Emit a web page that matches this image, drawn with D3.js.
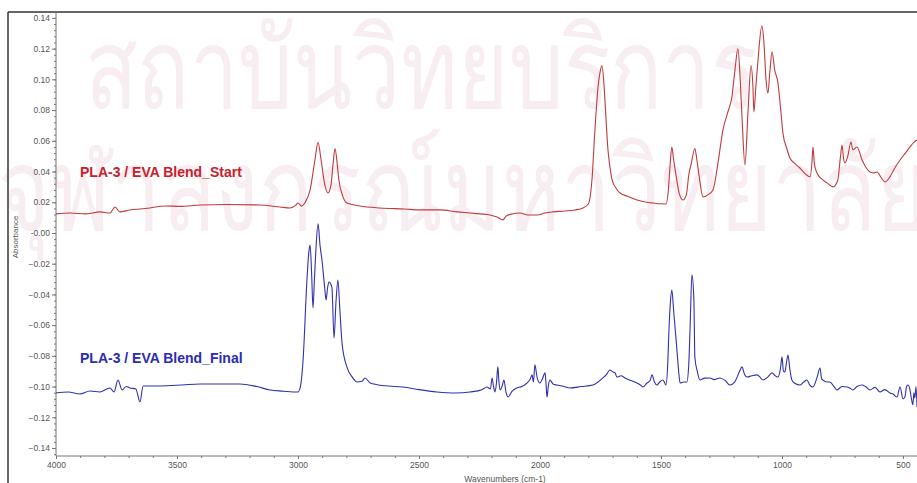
<!DOCTYPE html>
<html>
<head>
<meta charset="utf-8">
<script src="https://cdn.jsdelivr.net/npm/d3@7/dist/d3.min.js"></script>
<style>
  html, body { margin: 0; padding: 0; background: #fff; }
  svg { display: block; }
</style>
</head>
<body>
<svg id="chart" width="917" height="483"></svg>
<script>
// FTIR spectra of the PLA-3 / EVA blend, start vs. final
const seriesNames = ["PLA-3 / EVA Blend_Start", "PLA-3 / EVA Blend_Final"];

// start spectrum: wavenumber (cm-1) and absorbance
const startWavenumbers = [4000,3942,3880,3818,3777,3756,3736,3694,3653,3612,3550,3488,3405,3300,3157,3074,3033,3010,3000,2985,2970,2950,2930,2917,2905,2890,2876,2864,2855,2847,2838,2831,2815,2798,2744,2661,2560,2496,2413,2343,2289,2248,2207,2178,2153,2140,2116,2083,2050,2012,1979,1946,1897,1855,1822,1800,1785,1773,1760,1750,1744,1737,1731,1719,1710,1702,1685,1669,1640,1599,1560,1533,1500,1479,1470,1462,1455,1448,1438,1425,1409,1395,1385,1375,1360,1352,1343,1326,1305,1285,1265,1244,1225,1207,1195,1182,1172,1165,1153,1140,1128,1120,1116,1108,1099,1083,1075,1066,1058,1050,1041,1030,1017,1005,996,980,967,945,926,900,884,876,872,866,855,835,814,789,770,758,752,745,740,728,715,707,690,669,650,636,620,607,590,574,554,535,512,490,471,455,442];
const startAbsorbance = [0.0124,0.0130,0.0124,0.0137,0.0130,0.0169,0.0137,0.0150,0.0156,0.0163,0.0176,0.0173,0.0182,0.0185,0.0182,0.0169,0.0163,0.0180,0.0195,0.0175,0.0200,0.0280,0.0475,0.0590,0.0480,0.0320,0.0260,0.0310,0.0450,0.0550,0.0450,0.0345,0.0240,0.0195,0.0176,0.0163,0.0156,0.0150,0.0150,0.0137,0.0130,0.0124,0.0117,0.0104,0.0085,0.0110,0.0124,0.0130,0.0117,0.0117,0.0130,0.0137,0.0143,0.0150,0.0163,0.0190,0.0350,0.0670,0.0950,0.1060,0.1090,0.1000,0.0850,0.0540,0.0420,0.0345,0.0290,0.0260,0.0240,0.0215,0.0200,0.0195,0.0190,0.0189,0.0270,0.0450,0.0560,0.0480,0.0378,0.0260,0.0215,0.0250,0.0380,0.0450,0.0550,0.0480,0.0378,0.0234,0.0250,0.0280,0.0450,0.0670,0.0780,0.0885,0.1050,0.1200,0.0980,0.0750,0.0443,0.0800,0.1090,0.0950,0.0788,0.0950,0.1126,0.1348,0.1250,0.1000,0.0910,0.1050,0.1180,0.1060,0.0980,0.0800,0.0650,0.0550,0.0488,0.0450,0.0423,0.0380,0.0365,0.0460,0.0560,0.0450,0.0390,0.0350,0.0326,0.0300,0.0340,0.0500,0.0573,0.0480,0.0456,0.0500,0.0592,0.0540,0.0560,0.0475,0.0420,0.0397,0.0390,0.0397,0.0360,0.0332,0.0365,0.0420,0.0475,0.0520,0.0560,0.0590,0.0605];

// final spectrum: wavenumber (cm-1) and absorbance
const finalWavenumbers = [4000,3950,3901,3860,3818,3790,3777,3760,3744,3727,3710,3694,3670,3653,3640,3610,3570,3480,3405,3320,3240,3170,3116,3060,3021,3000,2990,2979,2963,2955,2950,2944,2938,2932,2926,2917,2909,2901,2890,2884,2878,2872,2860,2851,2843,2835,2827,2818,2798,2775,2756,2735,2723,2702,2640,2566,2500,2426,2350,2289,2240,2219,2205,2198,2192,2186,2180,2174,2170,2165,2157,2149,2140,2132,2115,2095,2075,2054,2040,2033,2027,2021,2012,2000,1990,1979,1975,1971,1965,1959,1945,1930,1900,1876,1830,1781,1760,1740,1725,1711,1698,1690,1682,1665,1649,1625,1599,1585,1574,1560,1545,1537,1527,1517,1505,1492,1479,1472,1467,1461,1455,1448,1440,1434,1427,1421,1405,1393,1385,1380,1372,1364,1360,1350,1339,1320,1298,1280,1256,1235,1215,1195,1175,1165,1155,1145,1125,1103,1090,1079,1060,1041,1028,1017,1006,1000,994,988,982,975,968,959,945,926,910,897,885,872,855,843,836,831,815,802,785,773,752,731,720,707,690,669,655,636,615,595,575,554,540,525,512,500,492,485,479,471,465,459,455,451,446,442];
const finalAbsorbance = [-0.1042,-0.1035,-0.1048,-0.1029,-0.1035,-0.1016,-0.1009,-0.1035,-0.0957,-0.1022,-0.1000,-0.1009,-0.1016,-0.1100,-0.0996,-0.0996,-0.0996,-0.0990,-0.0983,-0.0983,-0.0983,-0.1000,-0.1022,-0.1030,-0.1035,-0.1035,-0.1000,-0.0827,-0.0306,-0.0120,-0.0078,-0.0250,-0.0488,-0.0300,-0.0110,0.0059,-0.0080,-0.0176,-0.0350,-0.0436,-0.0360,-0.0319,-0.0352,-0.0684,-0.0450,-0.0306,-0.0500,-0.0716,-0.0872,-0.0940,-0.0970,-0.0965,-0.0944,-0.0977,-0.0995,-0.1003,-0.1020,-0.1035,-0.1042,-0.1035,-0.1020,-0.1003,-0.1016,-0.0944,-0.1000,-0.1035,-0.0980,-0.0872,-0.0960,-0.1022,-0.1000,-0.0957,-0.1040,-0.1068,-0.1030,-0.1009,-0.1000,-0.0977,-0.0950,-0.0924,-0.0970,-0.0859,-0.0940,-0.0977,-0.0950,-0.0911,-0.0980,-0.1068,-0.0990,-0.0957,-0.0985,-0.0990,-0.1000,-0.1009,-0.1000,-0.0990,-0.0970,-0.0944,-0.0920,-0.0892,-0.0905,-0.0910,-0.0938,-0.0930,-0.0944,-0.0960,-0.0977,-0.0990,-0.1003,-0.0980,-0.0960,-0.0924,-0.0970,-0.0990,-0.0970,-0.0957,-0.0990,-0.0850,-0.0632,-0.0450,-0.0371,-0.0500,-0.0650,-0.0762,-0.0900,-0.0977,-0.0970,-0.0970,-0.0850,-0.0632,-0.0273,-0.0436,-0.0807,-0.0900,-0.0957,-0.0945,-0.0944,-0.0955,-0.0944,-0.0960,-0.0990,-0.0970,-0.0900,-0.0872,-0.0920,-0.0938,-0.0930,-0.0924,-0.0940,-0.0957,-0.0940,-0.0911,-0.0930,-0.0938,-0.0880,-0.0807,-0.0900,-0.0905,-0.0850,-0.0794,-0.0880,-0.0957,-0.0980,-0.0990,-0.0970,-0.0957,-0.0990,-0.1003,-0.0940,-0.0879,-0.0950,-0.0957,-0.0970,-0.0970,-0.1000,-0.1022,-0.1000,-0.1003,-0.1010,-0.1022,-0.1000,-0.0990,-0.1000,-0.1022,-0.1005,-0.1035,-0.1020,-0.1042,-0.1050,-0.1068,-0.1003,-0.1080,-0.1068,-0.1000,-0.0990,-0.1022,-0.1080,-0.1119,-0.1040,-0.1074,-0.1000,-0.1133];

const xTickValues = [4000,3500,3000,2500,2000,1500,1000,500];
const yTickValues = [0.14,0.12,0.10,0.08,0.06,0.04,0.02,0.00,-0.02,-0.04,-0.06,-0.08,-0.10,-0.12,-0.14];
const watermarkLines = ["สถาบันวิทยบริการ", "จุฬาลงกรณ์มหาวิทยาลัย"];

const svg = d3.select("#chart");
const W = 917, H = 483;

const x = d3.scaleLinear().domain([4000, 442]).range([56, 917]);
const y = d3.scaleLinear().domain([-0.1452, 0.1432]).range([456, 13]);

// faint watermark behind everything
const wm = svg.append("g").attr("fill", "#f8edf1")
  .style("font-family", "'Noto Sans', 'DejaVu Sans', sans-serif");
wm.append("text").attr("x", 85).attr("y", 108).attr("font-size", 112)
  .attr("textLength", 672).attr("lengthAdjust", "spacingAndGlyphs").text(watermarkLines[0]);
wm.append("text").attr("x", -2).attr("y", 230).attr("font-size", 115)
  .attr("textLength", 930).attr("lengthAdjust", "spacingAndGlyphs").text(watermarkLines[1]);

// outer frame
svg.append("line").attr("x1", 8).attr("x2", 8).attr("y1", 12).attr("y2", H)
  .attr("stroke", "#333").attr("stroke-width", 1.5);
svg.append("line").attr("x1", 8).attr("x2", W).attr("y1", 12).attr("y2", 12)
  .attr("stroke", "#333").attr("stroke-width", 1.5);

const axisColor = "#777";
const labelFont = "'Liberation Sans', Arial, sans-serif";

// y axis: minor ticks then major ticks with labels
const yMinor = d3.range(-0.144, 0.1421, 0.004);
const gyMinor = svg.append("g").attr("transform", "translate(56,0)")
  .call(d3.axisLeft(y).tickValues(yMinor).tickSize(2).tickFormat(""));
const gy = svg.append("g").attr("transform", "translate(56,0)")
  .call(d3.axisLeft(y).tickValues(yTickValues).tickSize(4).tickPadding(2)
    .tickFormat(v => Math.abs(v) < 1e-9 ? "-0.00" : d3.format(".2f")(v)));

// x axis
const xMinor = d3.range(4000, 441, -100);
const gxMinor = svg.append("g").attr("transform", "translate(0,456)")
  .call(d3.axisBottom(x).tickValues(xMinor).tickSize(2).tickFormat(""));
const gx = svg.append("g").attr("transform", "translate(0,456)")
  .call(d3.axisBottom(x).tickValues(xTickValues).tickSize(3).tickPadding(3)
    .tickFormat(d3.format("d")));

[gyMinor, gy, gxMinor, gx].forEach(g => {
  g.selectAll("path").attr("stroke", axisColor);
  g.selectAll("line").attr("stroke", axisColor);
  g.selectAll("text").attr("fill", "#555").style("font-family", labelFont).style("font-size", "8.5px");
});
gyMinor.select(".domain").remove();
gxMinor.select(".domain").remove();
gy.select(".domain").attr("d", `M0,${y.range()[1]}V${y.range()[0]}`);
gx.select(".domain").attr("d", `M56,0H${W}`);

// axis titles
svg.append("text").attr("transform", "translate(18,237) rotate(-90)")
  .attr("text-anchor", "middle").attr("fill", "#555")
  .style("font-family", labelFont).style("font-size", "8px").text("Absorbance");
svg.append("text").attr("x", 505).attr("y", 482)
  .attr("text-anchor", "middle").attr("fill", "#555")
  .style("font-family", labelFont).style("font-size", "8.5px").text("Wavenumbers (cm-1)");

// spectra
const line = d3.line().x(d => x(d[0])).y(d => y(d[1])).curve(d3.curveMonotoneX);
const startData = startWavenumbers.map((w, i) => [w, startAbsorbance[i]]);
const finalData = finalWavenumbers.map((w, i) => [w, finalAbsorbance[i]]);

svg.append("path").datum(startData).attr("d", line)
  .attr("fill", "none").attr("stroke", "#c03a3e").attr("stroke-width", 1.1);
svg.append("path").datum(finalData).attr("d", line)
  .attr("fill", "none").attr("stroke", "#3030b0").attr("stroke-width", 1.1);

// series labels
svg.append("text").attr("x", 80).attr("y", 177).attr("fill", "#c8202c")
  .style("font-family", labelFont).style("font-weight", "bold").style("font-size", "14px")
  .text(seriesNames[0]);
svg.append("text").attr("x", 80).attr("y", 363).attr("fill", "#2b2bb3")
  .style("font-family", labelFont).style("font-weight", "bold").style("font-size", "14px")
  .text(seriesNames[1]);
</script>
</body>
</html>
